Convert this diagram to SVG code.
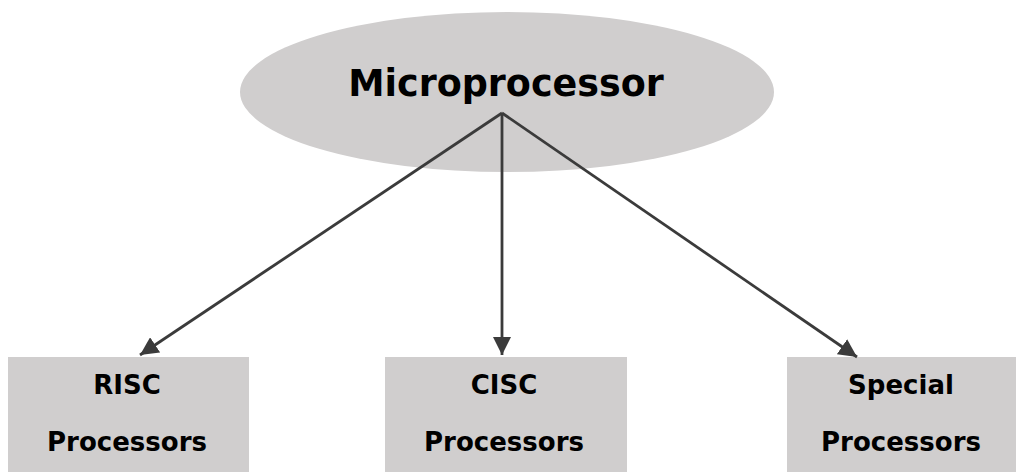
<svg xmlns="http://www.w3.org/2000/svg" width="1016" height="472" viewBox="0 0 1016 472">
<style>
.shape{fill:#d0cece;}
.t{font-family:"DejaVu Sans","Verdana",sans-serif;font-weight:bold;fill:#000;text-anchor:middle;}
.big{font-size:36.5px;}
.small{font-size:26px;}
.conn{stroke:#3b3b3b;stroke-width:2.8;fill:none;marker-end:url(#ah);}
</style>
<defs>
<marker id="ah" viewBox="0 0 10 10" refX="10" refY="5" markerWidth="6.5" markerHeight="6.5" markerUnits="strokeWidth" orient="auto">
<path d="M0,0 L10,5 L0,10 Z" fill="#3b3b3b"/>
</marker>
</defs>
<rect width="1016" height="472" fill="#ffffff"/>
<g id="microprocessor">
<ellipse class="shape" cx="507" cy="92" rx="267" ry="80"/>
<text class="t big" x="506" y="96">Microprocessor</text>
</g>
<g id="risc">
<rect class="shape" x="8" y="357" width="241" height="115"/>
<text class="t small" x="127" y="394">RISC</text>
<text class="t small" x="127" y="451">Processors</text>
</g>
<g id="cisc">
<rect class="shape" x="385" y="357" width="242" height="115"/>
<text class="t small" x="504" y="394">CISC</text>
<text class="t small" x="504" y="451">Processors</text>
</g>
<g id="special">
<rect class="shape" x="787" y="357" width="229" height="115"/>
<text class="t small" x="901" y="394">Special</text>
<text class="t small" x="901" y="451">Processors</text>
</g>
<g id="connectors">
<line class="conn" x1="502" y1="113" x2="140" y2="355"/>
<line class="conn" x1="502" y1="113" x2="502" y2="355"/>
<line class="conn" x1="502" y1="113" x2="857" y2="357"/>
</g>
</svg>
